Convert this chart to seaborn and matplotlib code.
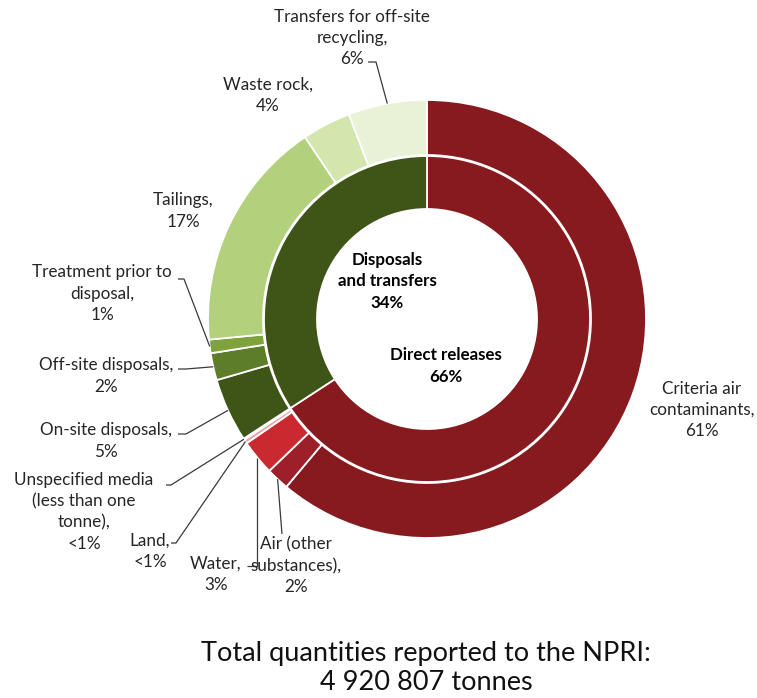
import numpy as np
import matplotlib
matplotlib.use("Agg")
import matplotlib.pyplot as plt
import seaborn as sns

sns.set_theme(style="white")
plt.rcParams["font.family"] = ["Lato", "DejaVu Sans"]

# Inner ring: release vs. disposal/transfer share (%)
inner_labels = ["Direct releases", "Disposals\nand transfers"]
inner_values = [65.8, 34.2]
inner_colors = ["#861a1e", "#3f5518"]

# Outer ring, clockwise from the top (%)
outer_labels = [
    "Criteria air\ncontaminants,\n61%",
    "Air (other\nsubstances),\n2%",
    "Water,\n3%",
    "Land,\n<1%",
    "Unspecified media\n(less than one\ntonne),\n<1%",
    "On-site disposals,\n5%",
    "Off-site disposals,\n2%",
    "Treatment prior to\ndisposal,\n1%",
    "Tailings,\n17%",
    "Waste rock,\n4%",
    "Transfers for off-site\nrecycling,\n6%",
]
outer_values = [61.1, 1.7, 2.6, 0.3, 0.1, 4.7, 2.0, 1.0, 17.1, 3.6, 5.8]
outer_colors = ["#861a1e", "#9d1f2a", "#c9292f", "#e9a3a0", "#f3c9c4",
                "#3f5518", "#5d7d2a", "#7ea33c", "#b3d17c", "#d3e6ae", "#e9f1d6"]

total_label = "Total quantities reported to the NPRI:\n4 920 807 tonnes"

# Layout (pixel coordinates, y downward)
W, H = 757, 698
cx, cy = 427, 319
r_out, r_mid, r_in = 219, 164, 110
line_step = 21.5

label_pos = [(702, 410), (296, 566), (216, 574), (150, 551), (84, 512),
             (106, 441), (106, 376), (102, 294), (183, 211), (268, 95), (352, 38)]
# leader start point and horizontal elbow length (None = no leader)
leader_start = [None, (282, 534), (247, 566), (171, 543), (166, 485),
                (178, 434), (178, 369), (178, 279), None, None, (368, 62)]
leader_elbow = [0, 0, "x", 5, 5, 8, 8, 6, 0, 0, 8]

fig = plt.figure(figsize=(W / 100, H / 100), dpi=100)
ax = fig.add_axes([0, 0, 1, 1])

# With the y axis inverted, counterclock=True runs clockwise on screen
# and startangle=-90 points to the top.
wp = dict(edgecolor="white", linewidth=1.3)
outer_wedges, _ = ax.pie(outer_values, colors=outer_colors, radius=r_out,
                         center=(cx, cy), startangle=-90, counterclock=True,
                         wedgeprops=dict(width=r_out - r_mid, **wp), frame=True)
inner_wedges, _ = ax.pie(inner_values, colors=inner_colors, radius=r_mid - 1,
                         center=(cx, cy), startangle=-90, counterclock=True,
                         wedgeprops=dict(width=r_mid - 1 - r_in, **wp), frame=True)
ax.set_xlim(0, W)
ax.set_ylim(H, 0)
ax.set_aspect("equal")
ax.axis("off")


def centered_block(x, y, text, **kw):
    """Draw a multi-line label one line at a time, centred on (x, y)."""
    lines = text.split("\n")
    y0 = y - line_step * (len(lines) - 1) / 2
    for i, line in enumerate(lines):
        ax.text(x, y0 + i * line_step, line, ha="center", va="center", **kw)


# Outer labels with leader lines
for wedge, text, pos, start, elbow in zip(outer_wedges, outer_labels, label_pos,
                                          leader_start, leader_elbow):
    centered_block(pos[0], pos[1], text, fontsize=12.3, color="#262626")
    if start is None:
        continue
    mid = np.deg2rad((wedge.theta1 + wedge.theta2) / 2)
    tx, ty = cx + r_out * np.cos(mid), cy + r_out * np.sin(mid)
    if elbow == "x":
        pts = [start, (tx, start[1]), (tx, ty)]
    else:
        pts = [start, (start[0] + elbow, start[1]), (tx, ty)]
    xs, ys = zip(*pts)
    ax.plot(xs, ys, color="#3a3a3a", lw=0.9, solid_capstyle="butt")

# Centre labels for the inner ring
centered_block(387, 281, f"{inner_labels[1]}\n{inner_values[1]:.0f}%",
               fontsize=12.2, fontweight="bold", color="black")
centered_block(446, 366, f"{inner_labels[0]}\n{inner_values[0]:.0f}%",
               fontsize=12.2, fontweight="bold", color="black")

ax.text(426, 668, total_label, ha="center", va="center", fontsize=19.5,
        color="#111111", linespacing=1.2)

fig.savefig("out.png", dpi=100, facecolor="white")
